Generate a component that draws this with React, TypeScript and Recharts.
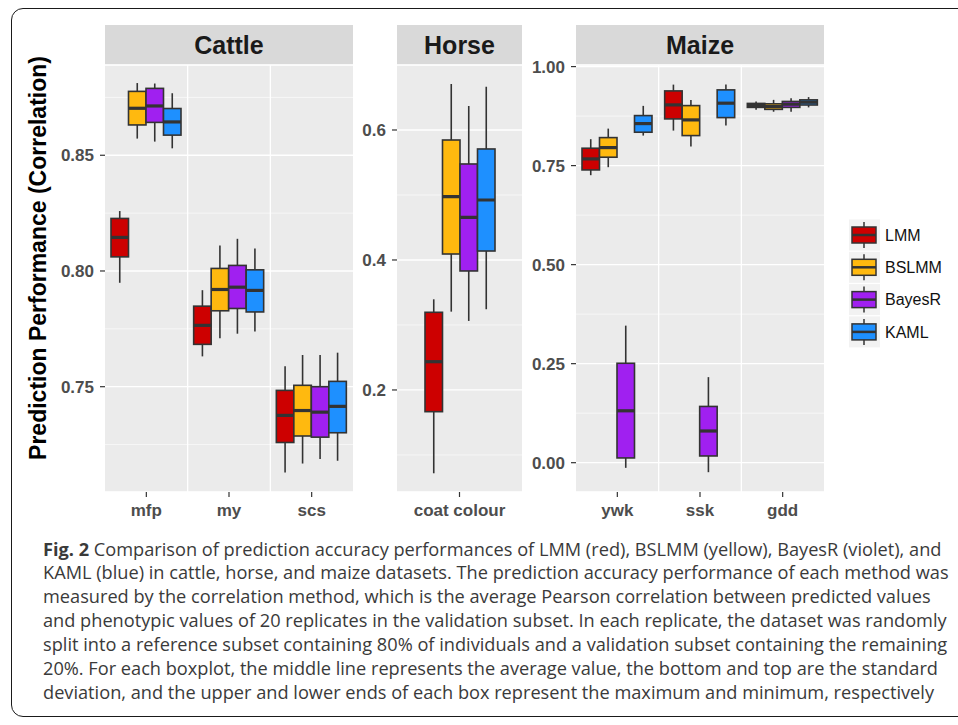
import React from 'react';
import { ComposedChart, Bar, XAxis, YAxis, CartesianGrid } from 'recharts';

// ---------- data ----------
const methods = ['LMM', 'BSLMM', 'BayesR', 'KAML'];
const methodColors = ['#CD0000', '#FFB90F', '#A020F0', '#1E90FF'];

// stats per box: [min, lower(sd), average, upper(sd), max]
const cattleCategories = ['mfp', 'my', 'scs'];
const cattleLMM = [[0.7949, 0.8061, 0.8145, 0.8227, 0.8259], [0.7631, 0.7683, 0.7765, 0.7848, 0.7917], [0.7129, 0.7259, 0.7376, 0.7484, 0.7588]];
const cattleBSLMM = [[0.8572, 0.8631, 0.8703, 0.8776, 0.8812], [0.7709, 0.7828, 0.792, 0.8011, 0.811], [0.7168, 0.7287, 0.7397, 0.7506, 0.7637]];
const cattleBayesR = [[0.8559, 0.8642, 0.8713, 0.8789, 0.881], [0.7729, 0.7838, 0.793, 0.8024, 0.8139], [0.7188, 0.7282, 0.739, 0.75, 0.7637]];
const cattleKAML = [[0.853, 0.8587, 0.8644, 0.8702, 0.8768], [0.7739, 0.7823, 0.7916, 0.8005, 0.8097], [0.718, 0.7301, 0.7415, 0.7523, 0.7647]];
const cattleTicks = [0.75, 0.8, 0.85];
const cattleMinor = [0.725, 0.775, 0.825, 0.875];
const cattleDomain = [0.7045, 0.889];

const horseCategories = ['coat colour'];
const horseLMM = [[0.0718, 0.1666, 0.2435, 0.3195, 0.3395]];
const horseBSLMM = [[0.3205, 0.4092, 0.4974, 0.5846, 0.6708]];
const horseBayesR = [[0.3062, 0.3831, 0.4657, 0.5477, 0.6369]];
const horseKAML = [[0.3242, 0.4138, 0.4923, 0.5708, 0.6666]];
const horseTicks = [0.2, 0.4, 0.6];
const horseMinor = [0.1, 0.3, 0.5];
const horseDomain = [0.043, 0.7];

const maizeCategories = ['ywk', 'ssk', 'gdd'];
const maizeLMM = [[0.7258, 0.7391, 0.7669, 0.7939, 0.8167], [0.8384, 0.8679, 0.9033, 0.9386, 0.9545], [0.891, 0.897, 0.902, 0.907, 0.912]];
const maizeBSLMM = [[0.746, 0.7712, 0.7955, 0.8207, 0.8434], [0.798, 0.8258, 0.8654, 0.9015, 0.9159], [0.886, 0.892, 0.899, 0.906, 0.916]];
const maizeBayesR = [[-0.013, 0.012, 0.131, 0.251, 0.346], [-0.024, 0.017, 0.08, 0.142, 0.216], [0.886, 0.897, 0.905, 0.912, 0.92]];
const maizeKAML = [[0.8258, 0.8343, 0.8561, 0.8763, 0.9008], [0.851, 0.8712, 0.9076, 0.9412, 0.9545], [0.897, 0.903, 0.91, 0.916, 0.923]];
const maizeTicks = [0, 0.25, 0.5, 0.75, 1.0];
const maizeMinor = [0.125, 0.375, 0.625, 0.875];
const maizeDomain = [-0.074, 1.004];

const yTitle = 'Prediction Performance (Correlation)';

const captionLines = [
  'Comparison of prediction accuracy performances of LMM (red), BSLMM (yellow), BayesR (violet), and',
  'KAML (blue) in cattle, horse, and maize datasets. The prediction accuracy performance of each method was',
  'measured by the correlation method, which is the average Pearson correlation between predicted values',
  'and phenotypic values of 20 replicates in the validation subset. In each replicate, the dataset was randomly',
  'split into a reference subset containing 80% of individuals and a validation subset containing the remaining',
  '20%. For each boxplot, the middle line represents the average value, the bottom and top are the standard',
  'deviation, and the upper and lower ends of each box represent the maximum and minimum, respectively',
];

// ---------- helpers ----------
const FONT = '"Liberation Sans", Arial, Helvetica, sans-serif';
const LINE = '#333333';

function buildRows(categories: string[], series: number[][][]) {
  return categories.map((cat, i) => {
    const row: any = { cat };
    methods.forEach((m, j) => {
      row[m] = series[j][i];
    });
    return row;
  });
}

const makeBoxShape = (method: string, color: string) => (props: any) => {
  const { x, y, width, height, payload } = props;
  const s = payload && payload[method];
  if (!s) return <g />;
  const [mn, q1, md, q3, mx] = s;
  const top = Math.min(y, y + height);
  const bottom = Math.max(y, y + height);
  const span = bottom - top;
  const py = (v: number) => (mx === mn ? top : top + (span * (mx - v)) / (mx - mn));
  const cx = x + width / 2;
  return (
    <g>
      <line x1={cx} x2={cx} y1={py(mx)} y2={py(q3)} stroke={LINE} strokeWidth={1.6} />
      <line x1={cx} x2={cx} y1={py(q1)} y2={py(mn)} stroke={LINE} strokeWidth={1.6} />
      <rect x={x} y={py(q3)} width={width} height={Math.max(0.5, py(q1) - py(q3))} fill={color} stroke={LINE} strokeWidth={1.6} />
      <line x1={x} x2={x + width} y1={py(md)} y2={py(md)} stroke={LINE} strokeWidth={3.2} />
    </g>
  );
};

const PLOT_TOP = 65;
const PLOT_H = 427;
const YW = 60;
const XH = 40;
const MT = 12;
const MR = 6;

function Panel(props: {
  left: number;
  plotWidth: number;
  title: string;
  categories: string[];
  series: number[][][];
  domain: number[];
  ticks: number[];
  minor: number[];
  digits: number;
}) {
  const { left, plotWidth, title, categories, series, domain, ticks, minor, digits } = props;
  const rows = buildRows(categories, series);
  const n = categories.length;
  return (
    <>
      <div
        style={{
          position: 'absolute',
          left,
          top: 25,
          width: plotWidth,
          height: 40,
          background: '#D9D9D9',
          color: '#1A1A1A',
          fontFamily: FONT,
          fontWeight: 'bold',
          fontSize: 25,
          lineHeight: '40px',
          textAlign: 'center',
        }}
      >
        {title}
      </div>
      <div style={{ position: 'absolute', left: left - YW, top: PLOT_TOP - MT }}>
        <ComposedChart
          width={YW + plotWidth + MR}
          height={MT + PLOT_H + XH}
          data={rows}
          margin={{ top: MT, right: MR, bottom: 0, left: 0 }}
          barGap={0}
          barSize={17.5}
        >
          <CartesianGrid
            yAxisId="main"
            fill="#EBEBEB"
            stroke="#FFFFFF"
            strokeWidth={1.3}
            vertical={n > 1}
            verticalCoordinatesGenerator={(p: any) => {
              const off = p.offset;
              const arr: number[] = [];
              for (let i = 1; i < n; i++) arr.push(off.left + (off.width * i) / n);
              return arr;
            }}
          />
          <CartesianGrid yAxisId="minor" stroke="#FFFFFF" strokeWidth={0.6} vertical={false} />
          <XAxis
            dataKey="cat"
            type="category"
            height={XH}
            interval={0}
            axisLine={false}
            tickLine={{ stroke: LINE, strokeWidth: 1.2 }}
            tickSize={5}
            tickMargin={7}
            tick={{ fill: '#4D4D4D', fontSize: 17, fontWeight: 'bold', fontFamily: FONT }}
          />
          <YAxis
            yAxisId="main"
            type="number"
            width={YW}
            domain={domain}
            allowDataOverflow
            ticks={ticks}
            interval={0}
            axisLine={false}
            tickLine={{ stroke: LINE, strokeWidth: 1.2 }}
            tickSize={5}
            tickMargin={6}
            tickFormatter={(v: number) => v.toFixed(digits)}
            tick={{ fill: '#4D4D4D', fontSize: 17, fontWeight: 'bold', fontFamily: FONT }}
          />
          <YAxis yAxisId="minor" type="number" hide domain={domain} allowDataOverflow ticks={minor} interval={0} />
          {methods.map((m, j) => (
            <Bar
              key={m}
              name={m}
              yAxisId="main"
              dataKey={(d: any) => [d[m][0], d[m][4]]}
              shape={makeBoxShape(m, methodColors[j])}
              isAnimationActive={false}
            />
          ))}
        </ComposedChart>
      </div>
    </>
  );
}

function Legend() {
  const startY = 235;
  const step = 32.3;
  return (
    <svg style={{ position: 'absolute', left: 840, top: 210 }} width={118} height={145}>
      {methods.map((m, i) => {
        const cy = startY - 210 + i * step;
        const kx = 849 - 840;
        return (
          <g key={m}>
            <rect x={kx} y={cy - 15.5} width={31} height={31} fill="#F2F2F2" />
            <line x1={kx + 15} x2={kx + 15} y1={cy - 13} y2={cy + 13} stroke={LINE} strokeWidth={1.5} />
            <rect x={kx + 3} y={cy - 8} width={24} height={16} fill={methodColors[i]} stroke={LINE} strokeWidth={1.5} />
            <line x1={kx + 3} x2={kx + 27} y1={cy} y2={cy} stroke={LINE} strokeWidth={2.5} />
            <text x={885 - 840} y={cy} dy="0.36em" fontSize={16} fontFamily={FONT} fill="#111">
              {m}
            </text>
          </g>
        );
      })}
    </svg>
  );
}

export default function App() {
  return (
    <div
      style={{
        position: 'fixed',
        left: 0,
        top: 0,
        width: 958,
        height: 725,
        overflow: 'hidden',
        background: '#FFFFFF',
      }}
    >
      <div
        style={{
          position: 'absolute',
          left: 11,
          top: 8,
          width: 1000,
          height: 709,
          border: '1.6px solid #1A1A1A',
          borderRadius: 12,
          boxSizing: 'border-box',
        }}
      />
      <svg style={{ position: 'absolute', left: 0, top: 0 }} width={80} height={520}>
        <text
          x={0}
          y={0}
          transform="translate(38,258) rotate(-90)"
          textAnchor="middle"
          dy="0.36em"
          fontSize={23}
          fontWeight="bold"
          fontFamily={FONT}
          fill="#000"
        >
          {yTitle}
        </text>
      </svg>
      <Panel
        left={105}
        plotWidth={248}
        title="Cattle"
        categories={cattleCategories}
        series={[cattleLMM, cattleBSLMM, cattleBayesR, cattleKAML]}
        domain={cattleDomain}
        ticks={cattleTicks}
        minor={cattleMinor}
        digits={2}
      />
      <Panel
        left={397}
        plotWidth={125}
        title="Horse"
        categories={horseCategories}
        series={[horseLMM, horseBSLMM, horseBayesR, horseKAML]}
        domain={horseDomain}
        ticks={horseTicks}
        minor={horseMinor}
        digits={1}
      />
      <Panel
        left={576}
        plotWidth={248}
        title="Maize"
        categories={maizeCategories}
        series={[maizeLMM, maizeBSLMM, maizeBayesR, maizeKAML]}
        domain={maizeDomain}
        ticks={maizeTicks}
        minor={maizeMinor}
        digits={2}
      />
      <Legend />
      <div
        style={{
          position: 'absolute',
          left: 43,
          top: 537.5,
          fontFamily: '"Open Sans", "Noto Sans", sans-serif',
          fontSize: 18.2,
          lineHeight: '23.9px',
          color: '#3A3A3A',
          whiteSpace: 'nowrap',
        }}
      >
        {captionLines.map((l, i) => (
          <div key={i}>
            {i === 0 ? <b style={{ fontWeight: 700 }}>Fig. 2 </b> : null}
            {l}
          </div>
        ))}
      </div>
    </div>
  );
}
